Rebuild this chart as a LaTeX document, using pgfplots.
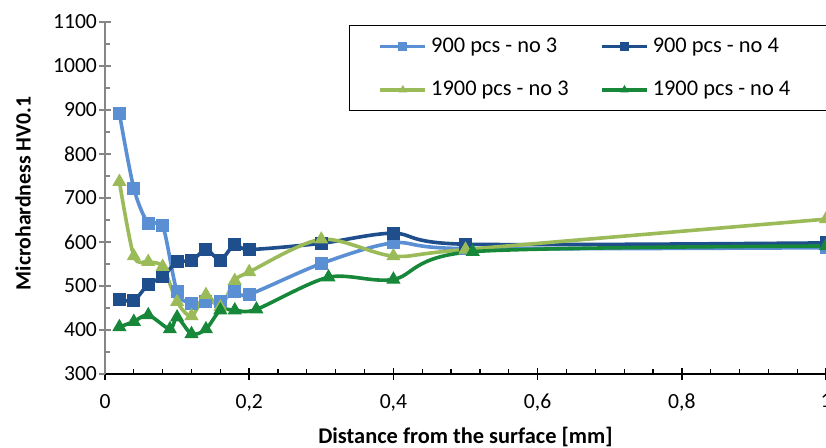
\documentclass[border=0pt]{standalone}
\usepackage{fontspec}
\setmainfont{Carlito}
\usepackage{pgfplots}
\pgfplotsset{compat=1.18}
\definecolor{c1}{HTML}{5B8FD4}
\definecolor{c2}{HTML}{1F4E8C}
\definecolor{c3}{HTML}{9BBB59}
\definecolor{c4}{HTML}{17873A}
\definecolor{axgray}{HTML}{868686}
\begin{document}
\begin{tikzpicture}
\begin{axis}[
  at={(0,0)}, anchor=south west,
  scale only axis, width=360.5pt, height=176pt,
  xmin=0, xmax=1, ymin=300, ymax=1100,
  axis x line*=bottom, axis y line*=left,
  x axis line style={black, line width=0.8pt, -},
  y axis line style={axgray, line width=0.8pt, -},
  xtick={0,0.2,0.4,0.6,0.8,1}, ytick={300,400,...,1100},
  minor x tick num=4, minor y tick num=1,
  tick align=inside,
  major tick length=6pt, minor tick length=2.5pt,
  major x tick style={black, line width=0.8pt, yshift=-3pt},
  minor x tick style={black, line width=0.6pt},
  major y tick style={axgray, line width=0.8pt, xshift=-3pt},
  minor y tick style={axgray, line width=0.6pt},
  /pgf/number format/assume math mode=true,
  /pgf/number format/use comma,
  /pgf/number format/1000 sep={},
  xticklabel style={font=\fontsize{10.8}{13}\selectfont, yshift=-6.5pt},
  yticklabel style={font=\fontsize{10.8}{13}\selectfont, xshift=-0.5pt},
  every axis x label/.style={at={(axis description cs:0.50,-0.179)}, anchor=center, font=\fontsize{11.2}{13}\selectfont\bfseries},
  every axis y label/.style={at={(axis description cs:-0.1138,0.513)}, rotate=90, anchor=center, font=\fontsize{10.9}{13}\selectfont\bfseries},
  xlabel={Distance from the surface [mm]},
  ylabel={Microhardness HV0.1},
  clip=false,
  legend columns=2,
  legend cell align=left,
  legend style={at={(axis description cs:0.3384,0.9915)}, anchor=north west,
    draw=black, line width=0.6pt, font=\fontsize{11.2}{13}\selectfont,
    inner xsep=14.5pt, inner ysep=4pt, row sep=9pt,
    /tikz/every even column/.append style={column sep=6pt}},
  legend image code/.code={
    \draw[#1, mark=none] (0pt,0pt) -- (22.5pt,0pt);
    \draw[#1, mark size=2pt] plot coordinates {(11.25pt,0pt)};
  },
  every axis plot/.append style={line width=1.8pt, smooth, tension=0.5},
]
\addplot[c1, mark=square*, mark size=3pt, mark options={fill=c1, draw=c1, line width=0.5pt}] coordinates {
(0.02,892)(0.04,722)(0.06,642)(0.08,637)(0.10,487)(0.12,461)(0.14,464)(0.16,464)(0.18,487)(0.20,481)(0.30,551)(0.40,598)(0.50,585)(1.0,587)};
\addplot[c2, mark=square*, mark size=3pt, mark options={fill=c2, draw=c2, line width=0.5pt}] coordinates {
(0.02,470)(0.04,467)(0.06,504)(0.08,521)(0.10,555)(0.12,557)(0.14,583)(0.16,559)(0.18,595)(0.20,583)(0.30,597)(0.40,620)(0.50,595)(1.0,598)};
\addplot[c3, mark=triangle*, mark size=3.6pt, mark options={fill=c3, draw=c3, line width=0.5pt}] coordinates {
(0.02,737)(0.04,568)(0.06,555)(0.08,544)(0.10,464)(0.12,432)(0.14,480)(0.16,452)(0.18,512)(0.20,532)(0.30,606)(0.40,568)(0.50,583)(1.0,652)};
\addplot[c4, mark=triangle*, mark size=3.6pt, mark options={fill=c4, draw=c4, line width=0.5pt}] coordinates {
(0.02,407)(0.04,419)(0.06,434)(0.09,402)(0.10,429)(0.12,391)(0.14,402)(0.16,445)(0.18,445)(0.21,447)(0.31,520)(0.40,515)(0.51,578)(1.0,591)};
\addlegendentry{\makebox[76.5pt][l]{900 pcs - no 3}}
\addlegendentry{\makebox[76.5pt][l]{900 pcs - no 4}}
\addlegendentry{\makebox[76.5pt][l]{1900 pcs - no 3}}
\addlegendentry{\makebox[76.5pt][l]{1900 pcs - no 4}}
\end{axis}
\pgfresetboundingbox
\useasboundingbox (-52.5pt,-36.5pt) rectangle (360.5pt,187pt);
\end{tikzpicture}
\end{document}
